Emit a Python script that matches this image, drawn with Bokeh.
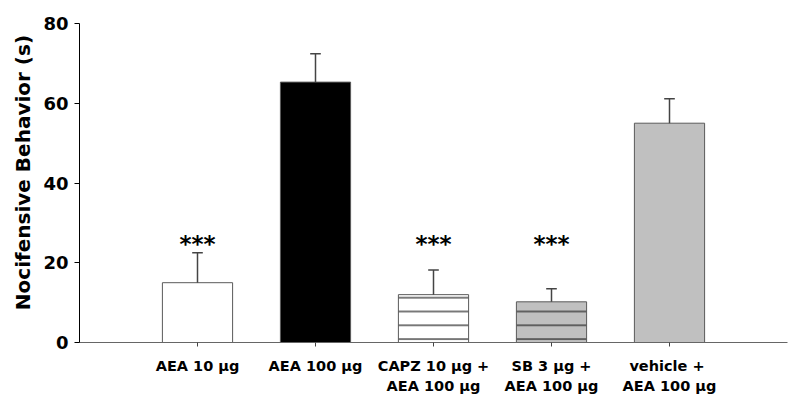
from bokeh.plotting import figure
from bokeh.models import Range1d, FixedTicker, ColumnDataSource
from bokeh.core.properties import value
from bokeh.embed import file_html
from bokeh.resources import INLINE

# ---- data ----
groups = ["AEA 10 µg", "AEA 100 µg", "CAPZ 10 µg +\nAEA 100 µg",
          "SB 3 µg +\nAEA 100 µg", "vehicle  +\nAEA 100 µg"]
means = [15.0, 65.3, 12.0, 10.2, 55.0]
sems = [7.5, 7.1, 6.2, 3.3, 6.1]
significance = ["***", "", "***", "***", ""]
y_ticks = [0, 20, 40, 60, 80]

# ---- styles ----
fills = ["white", "black", "white", "#c0c0c0", "#c0c0c0"]
hatches = [" ", " ", "-", "-", " "]
FONT = "DejaVu Sans"

xs = [i + 1 for i in range(len(groups))]
src = ColumnDataSource(dict(
    x=xs, top=means, fill=fills, hatch=hatches,
    err_top=[m + s for m, s in zip(means, sems)],
))

p = figure(width=800, height=415, output_backend="svg", toolbar_location=None,
           x_range=Range1d(0, len(groups) + 1), y_range=Range1d(0, 80),
           min_border_left=79, min_border_right=13, min_border_top=23,
           min_border_bottom=73)
p.outline_line_color = None
p.xgrid.visible = False
p.ygrid.visible = False
p.background_fill_color = "white"
p.border_fill_color = "white"

p.vbar(x="x", top="top", bottom=0, width=0.595, source=src,
       fill_color="fill", line_color="#5a5a5a", line_width=1,
       hatch_pattern="hatch", hatch_color="#222222", hatch_scale=13.8,
       hatch_weight=1.2)

# error bars (upper only)
p.segment(x0="x", y0="top", x1="x", y1="err_top", source=src,
          line_color="#444444", line_width=1.5)
cap = 0.045
p.segment(x0=[x - cap for x in xs], y0=src.data["err_top"],
          x1=[x + cap for x in xs], y1=src.data["err_top"],
          line_color="#444444", line_width=1.5)

# significance marks
star_level = 24.6
sx = [x for x, s in zip(xs, significance) if s]
st = [s for s in significance if s]
p.text(x=sx, y=[star_level] * len(sx), text=st, text_align="center",
       text_baseline="middle", text_font=value(FONT), text_font_style="bold",
       text_font_size="23px", text_color="black")

# y axis
ya = p.yaxis[0]
ya.ticker = FixedTicker(ticks=y_ticks)
ya.minor_tick_line_color = None
ya.major_tick_in = 0
ya.major_tick_out = 5
ya.axis_line_color = "black"
ya.major_tick_line_color = "black"
ya.major_label_text_font = FONT
ya.major_label_text_font_style = "bold"
ya.major_label_text_font_size = "18px"
ya.major_label_text_color = "black"
ya.major_label_standoff = 6
ya.axis_label = "\u00a0\u00a0\u00a0Nocifensive Behavior (s)"
ya.axis_label_text_font = FONT
ya.axis_label_text_font_style = "bold"
ya.axis_label_text_font_size = "20px"
ya.axis_label_text_color = "black"
ya.axis_label_standoff = 5

# x axis
xa = p.xaxis[0]
xa.ticker = FixedTicker(ticks=xs)
xa.major_label_overrides = {x: g for x, g in zip(xs, groups)}
xa.minor_tick_line_color = None
xa.major_tick_in = 0
xa.major_tick_out = 4
xa.axis_line_color = "#666666"
xa.major_tick_line_color = "#444444"
xa.major_label_text_font = FONT
xa.major_label_text_font_style = "bold"
xa.major_label_text_font_size = "14.5px"
xa.major_label_text_color = "black"
xa.major_label_text_line_height = 1.25
xa.major_label_standoff = 11

open("out.html", "w").write(file_html(p, INLINE))
